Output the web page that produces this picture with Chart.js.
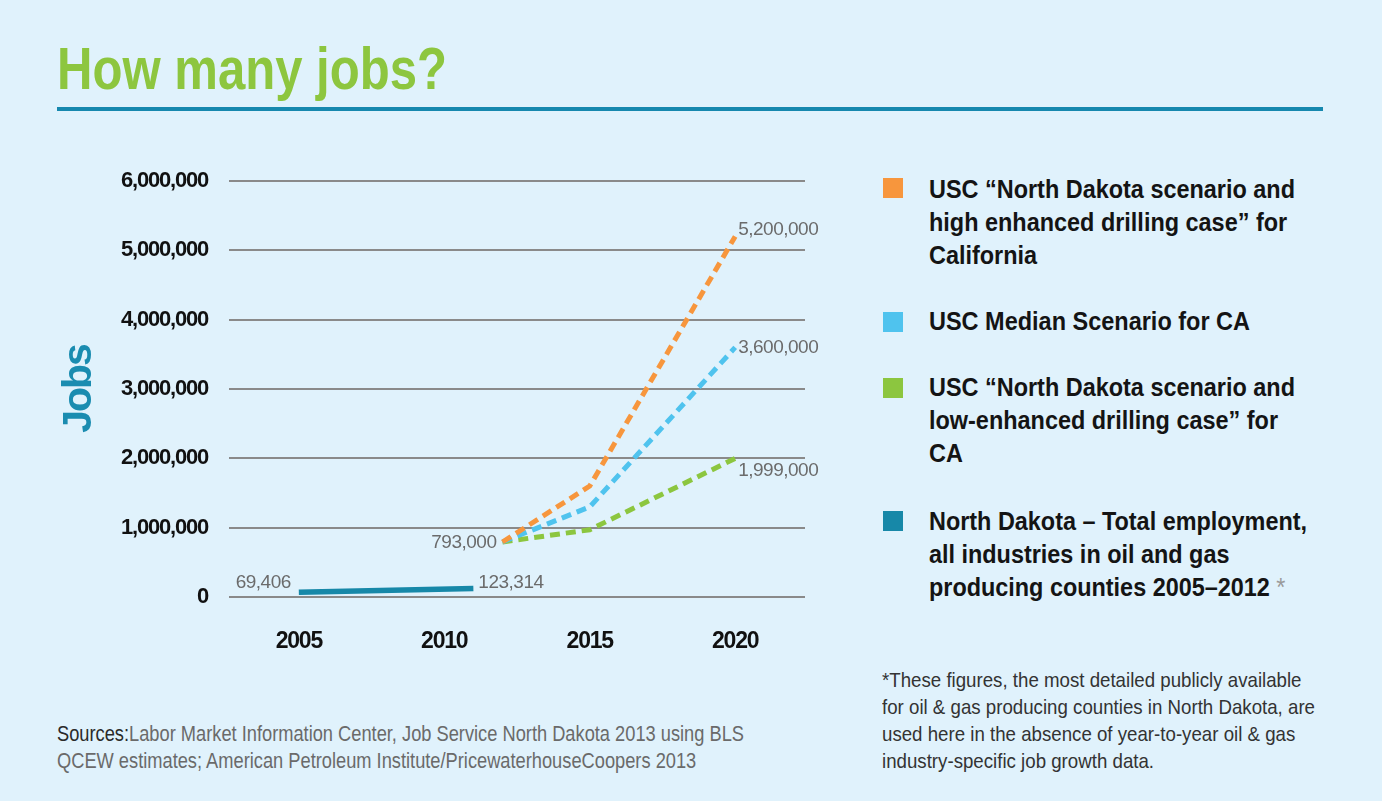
<!DOCTYPE html>
<html>
<head>
<meta charset="utf-8">
<title>How many jobs?</title>
<script src="https://cdn.jsdelivr.net/npm/chart.js@4.4.1/dist/chart.umd.min.js"></script>
<style>
  html, body { margin: 0; padding: 0; background: #e0f2fc; }
  #page { position: relative; width: 1382px; height: 801px; overflow: hidden; background: #e0f2fc;
    font-family: "Liberation Sans", Arial, sans-serif; }
  [data-fit] { transform-origin: 0 0; white-space: nowrap; }
  h1 { position: absolute; left: 57px; top: 39px; margin: 0; font-size: 60px; line-height: 60px;
    font-weight: bold; color: #8dc63f; }
  .rule { position: absolute; left: 57px; top: 107px; width: 1266px; height: 4px; background: #1688ae; }
  #chartWrap { position: absolute; left: 0; top: 140px; width: 830px; height: 530px; }
  .swatch { position: absolute; left: 883px; width: 20px; height: 20px; }
  .item { position: absolute; left: 929px; font-size: 25px; line-height: 33px; font-weight: bold; color: #141414; }
  .item .star { color: #9a9a9a; font-weight: normal; }
  .note { position: absolute; }
  #footnote { left: 882px; top: 666px; font-size: 21px; line-height: 27px; color: #333; }
  #sources { left: 57px; top: 721px; font-size: 22px; line-height: 26.5px; color: #6a6a6a; }
  #sources b { font-weight: normal; color: #2a2a2a; }
</style>
</head>
<body>
<div id="page">
  <h1 data-fit="390">How many jobs?</h1>
  <div class="rule"></div>
  <div id="chartWrap"><canvas id="jobsChart"></canvas></div>

  <div class="swatch" style="top:178px;background:#f7963d"></div>
  <div class="item" data-fit="366" style="top:173px">USC “North Dakota scenario and<br>high enhanced drilling case” for<br>California</div>
  <div class="swatch" style="top:312px;background:#4fc3ee"></div>
  <div class="item" data-fit="321" style="top:305px">USC Median Scenario for CA</div>
  <div class="swatch" style="top:378px;background:#8cc63f"></div>
  <div class="item" data-fit="366" style="top:371px">USC “North Dakota scenario and<br>low-enhanced drilling case” for<br>CA</div>
  <div class="swatch" style="top:511px;background:#1788a8"></div>
  <div class="item" data-fit="378" style="top:505px">North Dakota – Total employment,<br>all industries in oil and gas<br>producing counties 2005–2012 <span class="star">*</span></div>

  <div class="note" id="footnote" data-fit="433">*These figures, the most detailed publicly available<br>for oil &amp; gas producing counties in North Dakota, are<br>used here in the absence of year-to-year oil &amp; gas<br>industry-specific job growth data.</div>
  <div class="note" id="sources" data-fit="687"><b>Sources:</b>Labor Market Information Center, Job Service North Dakota 2013 using BLS<br>QCEW estimates; American Petroleum Institute/PricewaterhouseCoopers 2013</div>
</div>

<script>
const ndYears = [2005, 2011];
const ndJobs = [69406, 123314];

const projYears = [2012, 2015, 2020];
const highCase = [793000, 1600000, 5200000];
const medianCase = [793000, 1300000, 3600000];
const lowCase = [793000, 970000, 1999000];

const yearTicks = [2005, 2010, 2015, 2020];
const jobTicks = [0, 1000000, 2000000, 3000000, 4000000, 5000000, 6000000];

const COLORS = {
  nd: "#1788a8",
  high: "#f7963d",
  median: "#4fc3ee",
  low: "#8cc63f",
};

const FONT = '"Liberation Sans", Arial, sans-serif';

// squeeze the html text blocks to the width of the condensed original
document.querySelectorAll("[data-fit]").forEach((el) => {
  const w = el.getBoundingClientRect().width;
  el.style.transform = `scaleX(${Number(el.dataset.fit) / w})`;
});

function toPoints(xs, ys) {
  return xs.map((x, i) => ({ x, y: ys[i] }));
}

function fmt(n) {
  return Number(n).toLocaleString("en-US");
}

// which point of which dataset gets a number next to it
const pointLabels = [
  { ds: 0, i: 0, align: "right", dx: -8, dy: -9 },
  { ds: 0, i: 1, align: "left", dx: 5, dy: -6 },
  { ds: 3, i: 0, align: "right", dx: -6, dy: 1 },
  { ds: 1, i: 2, align: "left", dx: 3, dy: -7 },
  { ds: 2, i: 2, align: "left", dx: 3, dy: 0 },
  { ds: 3, i: 2, align: "left", dx: 3, dy: 12 },
];

// canvas has no condensed face installed, so tighten the tracking instead
const trackingPlugin = {
  id: "tracking",
  beforeDraw(chart) {
    chart.ctx.letterSpacing = "-2px"; // axis title
  },
  afterDatasetsDraw(chart) {
    chart.ctx.letterSpacing = "-1.2px"; // tick labels (z: 1)
  },
};

const valueLabelPlugin = {
  id: "valueLabels",
  afterDatasetsDraw(chart) {
    const { ctx } = chart;
    ctx.save();
    ctx.letterSpacing = "-0.5px";
    ctx.font = "19px " + FONT;
    ctx.fillStyle = "#6b6b6b";
    ctx.textBaseline = "middle";
    pointLabels.forEach((l) => {
      const pt = chart.getDatasetMeta(l.ds).data[l.i];
      const val = chart.data.datasets[l.ds].data[l.i].y;
      ctx.textAlign = l.align;
      ctx.fillText(fmt(val), pt.x + l.dx, pt.y + l.dy);
    });
    ctx.restore();
  },
};

const dashed = (label, data, color) => ({
  label,
  data,
  borderColor: color,
  backgroundColor: color,
  borderWidth: 5,
  borderDash: [10, 6],
  borderCapStyle: "butt",
  pointRadius: 0,
  tension: 0,
  fill: false,
});

new Chart(document.getElementById("jobsChart"), {
  type: "line",
  data: {
    datasets: [
      {
        label: "North Dakota – Total employment",
        data: toPoints(ndYears, ndJobs),
        borderColor: COLORS.nd,
        backgroundColor: COLORS.nd,
        borderWidth: 5.5,
        borderCapStyle: "butt",
        pointRadius: 0,
        fill: false,
      },
      dashed("USC high enhanced drilling case", toPoints(projYears, highCase), COLORS.high),
      dashed("USC Median Scenario for CA", toPoints(projYears, medianCase), COLORS.median),
      dashed("USC low-enhanced drilling case", toPoints(projYears, lowCase), COLORS.low),
    ],
  },
  options: {
    responsive: true,
    maintainAspectRatio: false,
    animation: false,
    layout: { padding: { top: 41, right: 25, bottom: 0, left: 0 } },
    plugins: {
      legend: { display: false },
      tooltip: { enabled: false },
    },
    scales: {
      x: {
        type: "linear",
        min: 2002.6,
        max: 2022.4,
        afterBuildTicks: (scale) => {
          scale.ticks = yearTicks.map((v) => ({ value: v }));
        },
        afterFit: (scale) => {
          scale.height = 73;
        },
        grid: { display: false },
        border: { display: false },
        ticks: {
          z: 1,
          padding: 23,
          color: "#111",
          font: { family: FONT, size: 23, weight: "bold" },
          callback: (v) => String(v),
        },
      },
      y: {
        min: 0,
        max: 6000000,
        afterBuildTicks: (scale) => {
          scale.ticks = jobTicks.map((v) => ({ value: v }));
        },
        afterFit: (scale) => {
          scale.width = 229;
        },
        grid: { color: "#8a8a8a", lineWidth: 2, drawTicks: false },
        border: { display: false },
        ticks: {
          z: 1,
          padding: 21,
          color: "#111",
          font: { family: FONT, size: 22, weight: "bold" },
          callback: (v) => fmt(v),
        },
        title: {
          display: true,
          text: "Jobs",
          color: "#1a8cb0",
          padding: { top: 59 },
          font: { family: FONT, size: 41, weight: "bold", lineHeight: 1 },
        },
      },
    },
  },
  plugins: [trackingPlugin, valueLabelPlugin],
});
</script>
</body>
</html>
